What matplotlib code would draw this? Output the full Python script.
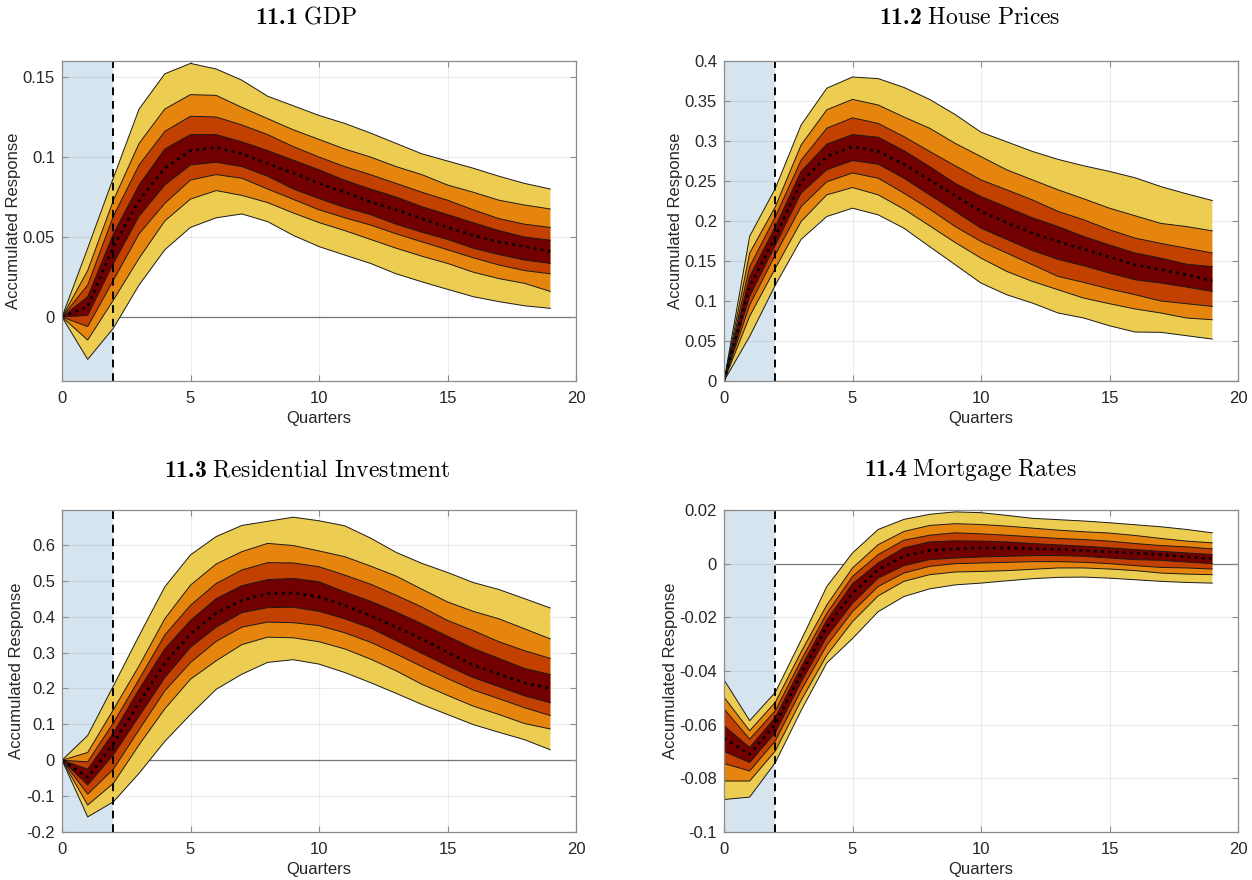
import matplotlib
matplotlib.use("Agg")
import matplotlib.pyplot as plt
from matplotlib.ticker import FuncFormatter, MultipleLocator

plt.rcParams['font.family'] = ['Liberation Sans', 'DejaVu Sans']
plt.rcParams['axes.unicode_minus'] = False
plt.rcParams['mathtext.fontset'] = 'custom'
plt.rcParams['mathtext.rm'] = 'cmr10'
plt.rcParams['mathtext.bf'] = 'cmb10'
plt.rcParams['mathtext.it'] = 'cmmi10'

quarters = list(range(20))

# ---------------- 11.1 GDP ----------------
gdp_hi4 = [0, 0.043, 0.087, 0.130, 0.152, 0.1585, 0.155, 0.148, 0.138, 0.132, 0.126, 0.121, 0.115, 0.1085, 0.102, 0.0975, 0.093, 0.088, 0.0835, 0.080]
gdp_hi3 = [0, 0.029, 0.073, 0.1085, 0.130, 0.139, 0.1385, 0.131, 0.124, 0.117, 0.111, 0.105, 0.100, 0.094, 0.089, 0.0825, 0.078, 0.073, 0.070, 0.0675]
gdp_hi2 = [0, 0.020, 0.063, 0.095, 0.116, 0.1255, 0.125, 0.120, 0.114, 0.1065, 0.100, 0.094, 0.089, 0.0835, 0.078, 0.073, 0.067, 0.0615, 0.058, 0.056]
gdp_hi1 = [0, 0.0127, 0.052, 0.0825, 0.105, 0.114, 0.114, 0.1095, 0.104, 0.098, 0.092, 0.0855, 0.080, 0.075, 0.069, 0.064, 0.059, 0.054, 0.050, 0.048]
gdp_med = [0, 0.0065, 0.044, 0.073, 0.093, 0.104, 0.106, 0.102, 0.096, 0.090, 0.0835, 0.078, 0.072, 0.067, 0.0615, 0.056, 0.051, 0.047, 0.044, 0.041]
gdp_lo1 = [0, 0.001, 0.0335, 0.063, 0.0825, 0.095, 0.0967, 0.094, 0.088, 0.080, 0.074, 0.0685, 0.064, 0.058, 0.053, 0.0485, 0.043, 0.039, 0.0356, 0.0335]
gdp_lo2 = [0, -0.006, 0.023, 0.052, 0.071, 0.0856, 0.089, 0.0867, 0.080, 0.0735, 0.067, 0.062, 0.0575, 0.052, 0.047, 0.042, 0.037, 0.0325, 0.029, 0.027]
gdp_lo3 = [0, -0.0144, 0.0106, 0.0367, 0.060, 0.0737, 0.079, 0.076, 0.0715, 0.065, 0.059, 0.054, 0.0485, 0.043, 0.038, 0.0335, 0.028, 0.024, 0.021, 0.016]
gdp_lo4 = [0, -0.0265, -0.007, 0.020, 0.042, 0.056, 0.062, 0.0644, 0.0596, 0.051, 0.044, 0.0387, 0.0335, 0.027, 0.022, 0.0173, 0.0127, 0.0096, 0.007, 0.0054]

# ---------------- 11.2 House Prices ----------------
hp_hi4 = [0, 0.181, 0.241, 0.320, 0.366, 0.380, 0.378, 0.367, 0.352, 0.333, 0.311, 0.299, 0.287, 0.277, 0.269, 0.262, 0.254, 0.243, 0.234, 0.2256]
hp_hi3 = [0, 0.160, 0.218, 0.295, 0.339, 0.352, 0.345, 0.330, 0.316, 0.297, 0.2805, 0.264, 0.2514, 0.239, 0.2277, 0.216, 0.2065, 0.197, 0.193, 0.1877]
hp_hi2 = [0, 0.143, 0.2056, 0.276, 0.316, 0.329, 0.322, 0.3055, 0.287, 0.269, 0.2514, 0.239, 0.2264, 0.212, 0.2015, 0.189, 0.1786, 0.172, 0.166, 0.160]
hp_hi1 = [0, 0.1307, 0.193, 0.262, 0.296, 0.308, 0.3047, 0.288, 0.268, 0.247, 0.2306, 0.2173, 0.204, 0.193, 0.1806, 0.170, 0.160, 0.1536, 0.146, 0.143]
hp_med = [0, 0.118, 0.181, 0.249, 0.2805, 0.293, 0.287, 0.271, 0.2514, 0.2314, 0.212, 0.198, 0.1848, 0.1744, 0.1648, 0.155, 0.1453, 0.139, 0.1328, 0.125]
hp_lo1 = [0, 0.1057, 0.170, 0.2348, 0.264, 0.2755, 0.271, 0.2535, 0.2327, 0.212, 0.191, 0.177, 0.163, 0.152, 0.144, 0.1349, 0.1265, 0.1224, 0.1174, 0.112]
hp_lo2 = [0, 0.095, 0.158, 0.218, 0.249, 0.260, 0.2535, 0.2348, 0.2148, 0.193, 0.1744, 0.160, 0.1453, 0.1307, 0.1232, 0.115, 0.1078, 0.100, 0.0966, 0.0932]
hp_lo3 = [0, 0.081, 0.141, 0.1994, 0.2327, 0.2418, 0.2327, 0.2148, 0.194, 0.173, 0.1536, 0.137, 0.1245, 0.114, 0.1036, 0.0966, 0.090, 0.085, 0.0787, 0.0766]
hp_lo4 = [0, 0.0558, 0.120, 0.177, 0.2056, 0.216, 0.2077, 0.191, 0.168, 0.1453, 0.1224, 0.1078, 0.0974, 0.085, 0.0787, 0.069, 0.0612, 0.0608, 0.0566, 0.0524]

# ---------------- 11.3 Residential Investment ----------------
ri_hi4 = [0, 0.069, 0.207, 0.347, 0.483, 0.572, 0.623, 0.654, 0.6655, 0.677, 0.667, 0.653, 0.619, 0.579, 0.5485, 0.523, 0.495, 0.4755, 0.450, 0.424]
ri_hi3 = [0, 0.0215, 0.141, 0.263, 0.394, 0.4877, 0.5467, 0.581, 0.604, 0.598, 0.583, 0.567, 0.541, 0.513, 0.4765, 0.441, 0.4147, 0.394, 0.366, 0.338]
ri_hi2 = [0, -0.0047, 0.104, 0.2256, 0.349, 0.4315, 0.4924, 0.530, 0.5504, 0.5495, 0.539, 0.5158, 0.4905, 0.4596, 0.4268, 0.3894, 0.3613, 0.330, 0.305, 0.2836]
ri_hi1 = [0, -0.025, 0.076, 0.1975, 0.310, 0.3894, 0.450, 0.486, 0.503, 0.5064, 0.497, 0.469, 0.4428, 0.413, 0.380, 0.3454, 0.3117, 0.2836, 0.2555, 0.2387]
ri_med = [0, -0.048, 0.046, 0.160, 0.2705, 0.352, 0.410, 0.4456, 0.464, 0.466, 0.455, 0.4315, 0.4034, 0.3707, 0.338, 0.3005, 0.265, 0.2396, 0.216, 0.1994]
ri_lo1 = [0, -0.069, 0.015, 0.1226, 0.230, 0.3145, 0.3707, 0.411, 0.425, 0.426, 0.4147, 0.394, 0.368, 0.3333, 0.2977, 0.263, 0.230, 0.205, 0.179, 0.160]
ri_lo2 = [0, -0.0945, -0.025, 0.085, 0.193, 0.272, 0.331, 0.3707, 0.3847, 0.383, 0.375, 0.355, 0.3286, 0.296, 0.261, 0.2275, 0.1956, 0.1713, 0.146, 0.1245]
ri_lo3 = [0, -0.125, -0.0646, 0.043, 0.143, 0.2256, 0.277, 0.322, 0.3427, 0.341, 0.330, 0.310, 0.2818, 0.249, 0.2116, 0.1807, 0.1507, 0.1273, 0.102, 0.087]
ri_lo4 = [0, -0.158, -0.116, -0.0365, 0.0524, 0.1273, 0.1975, 0.2396, 0.2724, 0.280, 0.2677, 0.2443, 0.2162, 0.1863, 0.1554, 0.1273, 0.0992, 0.0777, 0.0571, 0.029]

# ---------------- 11.4 Mortgage Rates ----------------
mr_hi4 = [-0.04325, -0.0585, -0.0479, -0.0285, -0.0085, 0.004, 0.01275, 0.0165, 0.0184, 0.0193, 0.019, 0.018, 0.0169, 0.0164, 0.0159, 0.01525, 0.0145, 0.01375, 0.01275, 0.0115]
mr_hi3 = [-0.04975, -0.06225, -0.0516, -0.0329, -0.0154, -0.0016, 0.0071, 0.012, 0.01425, 0.0149, 0.0146, 0.014, 0.01325, 0.0125, 0.0119, 0.0114, 0.0105, 0.0094, 0.0084, 0.00775]
mr_hi2 = [-0.0541, -0.0654, -0.05475, -0.036, -0.0185, -0.00475, 0.0034, 0.00875, 0.0106, 0.0115, 0.0111, 0.0106, 0.010, 0.0094, 0.009, 0.0084, 0.0075, 0.00675, 0.00625, 0.0055]
mr_hi1 = [-0.0604, -0.0685, -0.05725, -0.0385, -0.021, -0.0075, 0.00025, 0.0059, 0.0081, 0.0085, 0.0084, 0.0081, 0.0075, 0.007, 0.0065, 0.0059, 0.00525, 0.0046, 0.004, 0.0034]
mr_med = [-0.0651, -0.071, -0.05975, -0.041, -0.0235, -0.011, -0.00225, 0.00275, 0.0049, 0.0055, 0.0059, 0.0059, 0.0056, 0.0054, 0.0049, 0.0044, 0.0039, 0.0034, 0.0025, 0.00175]
mr_lo1 = [-0.070, -0.0741, -0.0629, -0.0441, -0.02725, -0.01475, -0.0054, -0.00075, 0.0015, 0.0021, 0.0025, 0.00275, 0.003, 0.003, 0.00275, 0.0021, 0.0015, 0.00125, 0.0006, 0.0]
mr_lo2 = [-0.0745, -0.07725, -0.066, -0.04725, -0.0304, -0.0179, -0.0085, -0.0035, -0.001, 0.0, 0.00025, 0.0005, 0.00075, 0.00075, 0.0005, 0.0, -0.00075, -0.0014, -0.0016, -0.002]
mr_lo3 = [-0.081, -0.081, -0.06975, -0.051, -0.0341, -0.0216, -0.012, -0.0066, -0.0041, -0.0031, -0.0029, -0.0026, -0.0021, -0.0016, -0.0016, -0.002, -0.0026, -0.0035, -0.0039, -0.0041]
mr_lo4 = [-0.0879, -0.087, -0.0741, -0.05475, -0.037, -0.0279, -0.0179, -0.01225, -0.0094, -0.0079, -0.00725, -0.0064, -0.0056, -0.0051, -0.005, -0.0054, -0.006, -0.0066, -0.007, -0.00725]

titles = [r"$\mathbf{11.1}\ \mathrm{GDP}$",
          r"$\mathbf{11.2}\ \mathrm{House\ Prices}$",
          r"$\mathbf{11.3}\ \mathrm{Residential\ Investment}$",
          r"$\mathbf{11.4}\ \mathrm{Mortgage\ Rates}$"]

panels = [
    (gdp_lo4, gdp_lo3, gdp_lo2, gdp_lo1, gdp_med, gdp_hi1, gdp_hi2, gdp_hi3, gdp_hi4),
    (hp_lo4, hp_lo3, hp_lo2, hp_lo1, hp_med, hp_hi1, hp_hi2, hp_hi3, hp_hi4),
    (ri_lo4, ri_lo3, ri_lo2, ri_lo1, ri_med, ri_hi1, ri_hi2, ri_hi3, ri_hi4),
    (mr_lo4, mr_lo3, mr_lo2, mr_lo1, mr_med, mr_hi1, mr_hi2, mr_hi3, mr_hi4),
]

ylims = [(-0.04, 0.16), (0.0, 0.4), (-0.2, 0.697), (-0.1, 0.02)]
ysteps = [0.05, 0.05, 0.1, 0.02]

band_colors = ['#EDCC52', '#E6850E', '#C24100', '#730000']
shade_color = '#D6E4F0'
spine_color = '#8C8C8C'
text_color = '#262626'

fig = plt.figure(figsize=(12.52, 8.8), dpi=100)

W, H = 1252, 880
boxes = [(62, 61, 576, 381), (724, 61, 1238, 381),
         (62, 510, 576, 832), (724, 510, 1238, 832)]
title_pos = [(306, 18), (970, 18), (307, 470), (970, 470)]
ylabel_x = [-0.080, -0.080, -0.074, -0.0895]


def fmt(v, pos):
    v = round(v, 6)
    if abs(v) < 1e-9:
        return '0'
    return '%g' % v


for i, (box, data) in enumerate(zip(boxes, panels)):
    l, t, r, b = box
    ax = fig.add_axes([l / W, 1 - b / H, (r - l) / W, (b - t) / H])
    lo4, lo3, lo2, lo1, med, hi1, hi2, hi3, hi4 = data

    # zero reference line
    ax.hlines(0, 2, 20, color='#7F7F7F', lw=0.9, zorder=1)
    # shaded impact period
    ax.axvspan(0, 2, color=shade_color, lw=0, zorder=2)

    pairs = [(lo4, hi4), (lo3, hi3), (lo2, hi2), (lo1, hi1)]
    for (lo, hi), c in zip(pairs, band_colors):
        ax.fill_between(quarters, lo, hi, facecolor=c, edgecolor='none', lw=0, zorder=3)
    for line in (lo4, lo3, lo2, lo1, hi1, hi2, hi3, hi4):
        ax.plot(quarters, line, color='#1A1A1A', lw=0.7, zorder=4)
    ax.plot(quarters, med, color='black', lw=2.0, ls=(0, (1, 1.6)), zorder=5)

    ax.axvline(2, color='black', lw=1.4, ls=(0, (4, 3)), zorder=6)

    ax.set_xlim(0, 20)
    ax.set_ylim(*ylims[i])
    ax.xaxis.set_major_locator(MultipleLocator(5))
    ax.yaxis.set_major_locator(MultipleLocator(ysteps[i]))
    ax.yaxis.set_major_formatter(FuncFormatter(fmt))

    ax.grid(True, color='black', alpha=0.08, lw=0.8, zorder=7)
    ax.set_axisbelow(False)

    ax.tick_params(direction='in', length=4, width=0.8, color=spine_color,
                   labelsize=12, labelcolor=text_color,
                   top=True, right=True)
    ax.tick_params(axis='x', pad=7)
    ax.tick_params(axis='y', pad=5)
    for sp in ax.spines.values():
        sp.set_color(spine_color)
        sp.set_linewidth(0.9)
        sp.set_zorder(8)

    ax.set_xlabel('Quarters', fontsize=12, color=text_color, labelpad=4)
    ax.set_ylabel('Accumulated Response', fontsize=12, color=text_color)
    ax.yaxis.set_label_coords(ylabel_x[i], 0.5)

    tx, ty = title_pos[i]
    fig.text(tx / W, 1 - ty / H, titles[i], ha='center', va='center',
             fontsize=17, color='black')

fig.savefig('out.png', dpi=100, facecolor='white')
